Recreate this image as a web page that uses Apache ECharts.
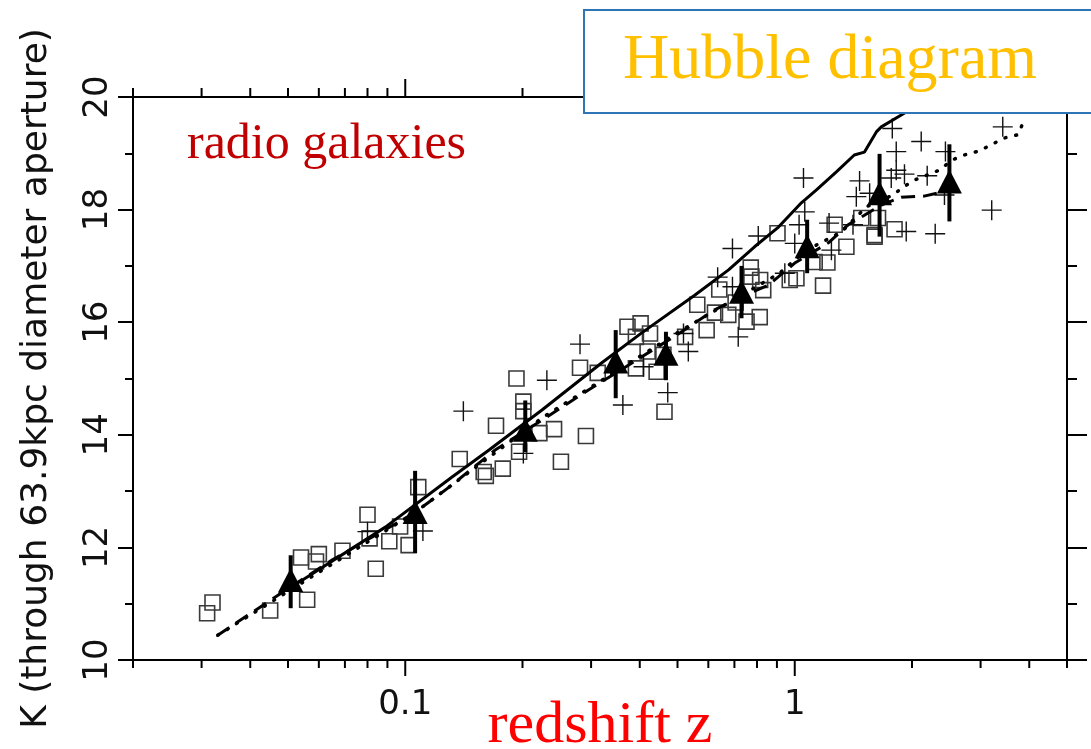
<!DOCTYPE html>
<html>
<head>
<meta charset="utf-8">
<title>Hubble diagram - radio galaxies</title>
<script src="https://cdn.jsdelivr.net/npm/echarts@6/dist/echarts.min.js"></script>
<style>
  html, body { margin: 0; padding: 0; background: #fff; }
  #chart { width: 1091px; height: 749px; }
</style>
</head>
<body>
<div id="chart"></div>
<script>
// low-z sample (open squares): [z, K]
var squarePts = [
  [0.031, 10.83], [0.032, 11.02], [0.045, 10.88], [0.056, 11.07], [0.054, 11.82],
  [0.060, 11.88], [0.059, 11.75], [0.069, 11.94], [0.080, 12.58], [0.081, 12.16],
  [0.084, 11.62], [0.091, 12.11], [0.097, 12.37], [0.102, 12.04], [0.108, 13.07],
  [0.138, 13.57], [0.159, 13.34], [0.161, 13.27], [0.178, 13.40], [0.171, 14.16],
  [0.193, 15.00], [0.201, 14.59], [0.201, 14.42], [0.196, 13.70], [0.221, 14.03],
  [0.241, 14.10], [0.251, 13.52], [0.291, 13.98], [0.281, 15.19], [0.312, 15.10],
  [0.372, 15.92], [0.402, 15.98], [0.391, 15.74], [0.425, 15.80], [0.419, 15.48],
  [0.460, 15.42], [0.391, 15.18], [0.442, 15.12], [0.523, 15.74], [0.594, 15.86],
  [0.562, 16.31], [0.624, 16.17], [0.463, 14.41], [0.675, 16.13], [0.640, 16.58],
  [0.752, 16.01], [0.813, 16.09], [0.771, 16.97], [0.774, 16.81], [0.815, 16.75],
  [0.830, 16.57], [0.705, 16.35], [0.903, 17.58], [0.971, 16.75], [1.010, 16.78],
  [1.182, 16.65], [1.125, 17.07], [1.213, 17.06], [1.266, 17.73], [1.357, 17.34],
  [1.603, 17.55], [1.482, 17.85], [1.636, 17.85], [1.804, 17.65], [1.603, 17.52]
];

// high-z sample (crosses): [z, K]
var crossPts = [
  [0.080, 12.28], [0.111, 12.29], [0.141, 14.42], [0.231, 14.97], [0.281, 15.61],
  [0.362, 14.53], [0.472, 14.75], [0.518, 15.80], [0.533, 15.48], [0.409, 15.21],
  [0.201, 13.67], [0.692, 17.31], [0.806, 17.53], [0.634, 16.80], [0.692, 16.63],
  [0.716, 15.74], [1.061, 17.96], [1.026, 17.73], [1.000, 17.40], [1.225, 17.76],
  [1.242, 17.28], [1.411, 17.73], [1.439, 18.23], [0.943, 16.87], [1.053, 18.56],
  [1.780, 19.44], [2.112, 19.21], [1.822, 19.03], [2.437, 19.03], [3.420, 19.47],
  [1.822, 18.70], [1.913, 18.63], [1.769, 18.56], [2.188, 18.60], [1.467, 18.51],
  [1.557, 18.29], [3.204, 17.99], [1.933, 17.61], [2.294, 17.57], [2.423, 18.26]
];

// binned means (triangles) with error bars
var binZ  = [0.0508, 0.106, 0.2033, 0.347, 0.467, 0.730, 1.076, 1.651, 2.495];
var binK  = [11.42, 12.63, 14.09, 15.30, 15.44, 16.54, 17.35, 18.29, 18.50];
var binLo = [10.92, 11.90, 13.69, 14.65, 14.97, 16.07, 16.87, 17.52, 17.79];
var binHi = [11.86, 13.36, 14.61, 15.86, 15.83, 17.00, 17.82, 18.99, 19.16];

// model curves
var solidCurve = [
  [0.0473, 11.17], [0.0545, 11.42], [0.0889, 12.36], [0.1319, 13.25], [0.1641, 13.73],
  [0.2244, 14.44], [0.3197, 15.28], [0.4047, 15.81], [0.5534, 16.48], [0.6762, 16.93],
  [0.7884, 17.34], [0.9083, 17.69], [1.040, 18.12], [1.137, 18.35], [1.279, 18.67],
  [1.422, 18.97], [1.509, 19.02], [1.620, 19.38], [1.668, 19.47], [1.877, 19.68],
  [2.240, 20.0]
];
var dashedCurve = [
  [0.0330, 10.44], [0.0464, 11.12], [0.065, 11.78], [0.1054, 12.61], [0.1296, 13.07],
  [0.1701, 13.73], [0.2244, 14.26], [0.2960, 14.80], [0.3749, 15.24], [0.5125, 15.83],
  [0.6226, 16.22], [0.7436, 16.48], [0.8563, 16.66], [1.0, 17.05], [1.104, 17.23],
  [1.220, 17.41], [1.371, 17.73], [1.509, 17.90], [1.668, 18.08], [1.877, 18.22],
  [2.149, 18.24], [2.446, 18.33]
];
var dottedCurve = [
  [0.0330, 10.44], [0.1054, 12.61], [0.2244, 14.30], [0.5125, 15.86], [0.9138, 16.87],
  [1.022, 17.16], [1.136, 17.37], [1.317, 17.60], [1.527, 18.05], [1.789, 18.26],
  [1.899, 18.40], [2.038, 18.53], [2.349, 18.70], [2.535, 18.88], [2.722, 18.97],
  [2.973, 19.04], [3.191, 19.15], [3.445, 19.27], [3.742, 19.33], [3.855, 19.54]
];

// x tick positions (log axis)
var xMajorTicks = [0.1, 1];
var xMinorTicks = [0.02, 0.03, 0.04, 0.05, 0.06, 0.07, 0.08, 0.09,
                   0.2, 0.3, 0.4, 0.5, 0.6, 0.7, 0.8, 0.9, 2, 3, 4, 5];

var chart = echarts.init(document.getElementById('chart'));

var tickData = xMinorTicks.map(function (v) { return [v, 10, 0]; })
  .concat(xMajorTicks.map(function (v) { return [v, 10, 1]; }));
var barData = binZ.map(function (z, i) { return [z, binLo[i], binHi[i]]; });
var triData = binZ.map(function (z, i) { return [z, binK[i]]; });

var sansFont = '"DejaVu Sans", sans-serif';
var serifFont = '"Liberation Serif", "DejaVu Serif", serif';

var option = {
  backgroundColor: '#fff',
  animation: false,
  grid: { left: 133, right: 24, top: 97, bottom: 89, containLabel: false, outerBoundsMode: 'none' },
  xAxis: [{
    type: 'log', logBase: 10, min: 0.02, max: 5,
    name: 'redshift z', nameLocation: 'middle', nameGap: 36, nameMoveOverlap: false,
    nameTextStyle: { color: '#ff0000', fontFamily: serifFont, fontSize: 60 },
    axisLine: { lineStyle: { color: '#000', width: 2 } },
    axisTick: { show: false },
    splitLine: { show: false },
    axisLabel: {
      margin: 28, color: '#111', fontFamily: sansFont, fontSize: 34,
      formatter: function (v) {
        if (Math.abs(v - 0.1) < 1e-9) return '0.1';
        if (Math.abs(v - 1) < 1e-9) return '1';
        return '';
      }
    }
  }, {
    type: 'log', logBase: 10, min: 0.02, max: 5, position: 'top',
    axisLine: { lineStyle: { color: '#000', width: 2 } },
    axisTick: { show: false }, axisLabel: { show: false }, splitLine: { show: false }
  }],
  yAxis: [{
    type: 'value', min: 10, max: 20, interval: 2,
    name: 'K (through 63.9kpc diameter aperture)', nameLocation: 'middle', nameGap: 78,
    nameMoveOverlap: false,
    nameTextStyle: { color: '#111', fontFamily: sansFont, fontSize: 36 },
    axisLine: { lineStyle: { color: '#000', width: 2 } },
    axisTick: { length: 15, lineStyle: { color: '#000', width: 2 } },
    minorTick: { show: true, splitNumber: 2, length: 8, lineStyle: { color: '#000', width: 2 } },
    splitLine: { show: false },
    axisLabel: { rotate: 90, margin: 18, color: '#111', fontFamily: sansFont, fontSize: 34 }
  }, {
    type: 'value', min: 10, max: 20, interval: 2, position: 'right',
    axisLine: { show: true, lineStyle: { color: '#000', width: 2 } },
    axisTick: { show: true, length: 20, lineStyle: { color: '#000', width: 2 } },
    minorTick: { show: true, splitNumber: 2, length: 10, lineStyle: { color: '#000', width: 2 } },
    axisLabel: { show: false }, splitLine: { show: false }
  }],
  series: [
    {
      type: 'line', data: solidCurve, showSymbol: false, z: 3,
      lineStyle: { color: '#000', width: 3 }
    },
    {
      type: 'line', data: dashedCurve, showSymbol: false, z: 3,
      lineStyle: { color: '#000', width: 3, type: [14, 8] }
    },
    {
      type: 'line', data: dottedCurve, showSymbol: false, z: 3,
      lineStyle: { color: '#000', width: 3.5, type: [1, 10], cap: 'round' }
    },
    {
      type: 'scatter', data: squarePts, symbol: 'rect', symbolSize: 15, z: 2,
      itemStyle: { color: 'rgba(0,0,0,0)', borderColor: '#3a3a3a', borderWidth: 1.6, opacity: 1 }
    },
    {
      type: 'scatter', data: crossPts, z: 2,
      symbol: 'path://M9.3,0h1.4v20h-1.4z M0,9.3h20v1.4h-20z', symbolSize: 20,
      itemStyle: { color: '#111', opacity: 1 }
    },
    {
      type: 'custom', data: barData, z: 4, silent: true,
      encode: { x: 0, y: [1, 2] },
      renderItem: function (params, api) {
        var p1 = api.coord([api.value(0), api.value(1)]);
        var p2 = api.coord([api.value(0), api.value(2)]);
        return {
          type: 'line',
          shape: { x1: p1[0], y1: p1[1], x2: p2[0], y2: p2[1] },
          style: { stroke: '#000', lineWidth: 4 }
        };
      }
    },
    {
      type: 'scatter', data: triData, symbol: 'triangle', symbolSize: [25, 24], z: 5,
      itemStyle: { color: '#000', opacity: 1 }
    },
    {
      type: 'custom', data: tickData, silent: true, z: 6,
      encode: { x: 0, y: 1 },
      renderItem: function (params, api) {
        var v = api.value(0);
        var major = api.value(2) === 1;
        var pb = api.coord([v, 10]);
        var pt = api.coord([v, 20]);
        var len = major ? 16 : 8;
        var st = { stroke: '#000', lineWidth: 2 };
        return {
          type: 'group',
          children: [
            { type: 'line', shape: { x1: pb[0], y1: pb[1], x2: pb[0], y2: pb[1] + len }, style: st },
            { type: 'line', shape: { x1: pt[0], y1: pt[1], x2: pt[0], y2: pt[1] - (major ? 18 : 9) }, style: st }
          ]
        };
      }
    }
  ],
  graphic: [
    {
      type: 'rect', z: 100,
      shape: { x: 584, y: 10, width: 520, height: 103 },
      style: { fill: '#fff', stroke: '#2e75b6', lineWidth: 2 }
    },
    {
      type: 'text', z: 101, x: 623, y: 61,
      style: { text: 'Hubble diagram', fill: '#ffc000', font: '64px ' + serifFont, verticalAlign: 'middle' }
    },
    {
      type: 'text', z: 101, x: 187, y: 145,
      style: { text: 'radio galaxies', fill: '#c00000', font: '50px ' + serifFont, verticalAlign: 'middle' }
    }
  ]
};

chart.setOption(option);
</script>
</body>
</html>
